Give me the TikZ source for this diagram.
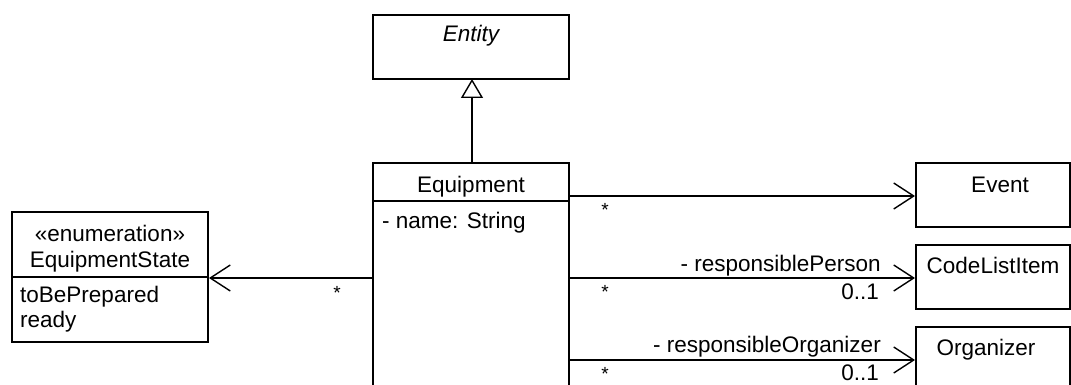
\documentclass[tikz,border=0pt]{standalone}
\usepackage{fontspec}
\setmainfont{Liberation Sans}
\usetikzlibrary{arrows.meta}
\begin{document}
\begin{tikzpicture}[x=1pt,y=-1pt,
  box/.style={draw=black,line width=1.5pt},
  lbl/.style={inner sep=0pt,font=\fontsize{22.5}{26}\selectfont,anchor=base},
  star/.style={inner sep=0pt,font=\fontsize{19}{22}\selectfont,anchor=base},
  assoc/.style={draw=black,line width=1.5pt,-{Straight Barb[length=20pt,width=26pt,line width=1.4pt]}},
  gen/.style={draw=black,line width=1.5pt,-{Triangle[open,length=19pt,width=22pt,line width=1.4pt,fill=white]}}]
\useasboundingbox (0,0) rectangle (1071,385);
% Entity
\draw[box] (373,15) rectangle (569,79);
\coordinate (entb) at (472,79);
\node[lbl] (entity) at (471,42) {\itshape Entity};
% Equipment
\draw[box] (373,163) rectangle (569,400);
\draw[box] (373,201) -- (569,201);
\coordinate (eqt) at (472,163);
\node[lbl] (equipment) at (471,193) {Equipment};
\node[lbl,anchor=base west] (eqattr) at (382,228) {- name: String};
% EquipmentState
\draw[box] (12,212) rectangle (208,342);
\draw[box] (12,277) -- (208,277);
\node[lbl] (stereo) at (110,241) {«enumeration»};
\node[lbl] (eqstate) at (110,267) {EquipmentState};
\node[lbl,anchor=base west] (lit1) at (20,302) {toBePrepared};
\node[lbl,anchor=base west] (lit2) at (20,327) {ready};
% Right boxes
\draw[box] (916,163) rectangle (1070,227);
\node[lbl] (event) at (1000,192) {Event};
\draw[box] (916,245) rectangle (1070,309);
\node[lbl] (codelist) at (993,273) {CodeListItem};
\draw[box] (916,327) rectangle (1070,400);
\node[lbl] (organizer) at (986,355) {Organizer};
% connector endpoints
\coordinate (e1) at (569,196); \coordinate (t1) at (915,196);
\coordinate (e2) at (569,278); \coordinate (t2) at (915,278);
\coordinate (e3) at (569,360); \coordinate (t3) at (915,360);
\coordinate (e4) at (373,278); \coordinate (t4) at (209,278);
% generalization
\draw[gen] (eqt) -- (entb);
% associations
\draw[assoc] (e1) -- (t1);
\draw[assoc] (e2) -- (t2);
\draw[assoc] (e3) -- (t3);
\draw[assoc] (e4) -- (t4);
% multiplicities and roles
\node[star] (s1) at (605,216) {*};
\node[star] (s2) at (605,298) {*};
\node[star] (s3) at (605,380) {*};
\node[star] (s4) at (337,299) {*};
\node[lbl,anchor=base east] (r1) at (881,271) {- responsiblePerson};
\node[lbl,anchor=base east] (m1) at (879,299) {0..1};
\node[lbl,anchor=base east] (r2) at (881,352) {- responsibleOrganizer};
\node[lbl,anchor=base east] (m2) at (879,380) {0..1};
\end{tikzpicture}
\end{document}
